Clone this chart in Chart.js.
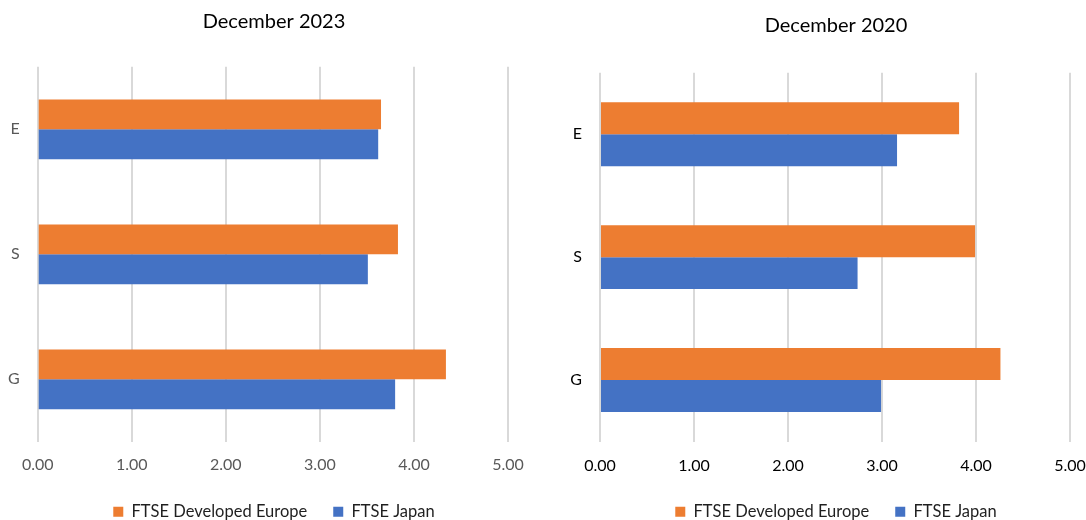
<!DOCTYPE html>
<html>
<head>
<meta charset="utf-8">
<script src="https://cdn.jsdelivr.net/npm/chart.js@4.4.1/dist/chart.umd.min.js"></script>
<style>
  html, body { margin: 0; padding: 0; overflow: hidden; background: #ffffff; width: 1086px; height: 520px; }
  #left { position: absolute; left: 0px; top: 0px; }
  #right { position: absolute; left: 556px; top: 0px; }
</style>
</head>
<body>
<canvas id="left" width="548" height="530"></canvas>
<canvas id="right" width="560" height="530"></canvas>
<script>
const categories = ['E', 'S', 'G'];
const seriesNames = ['FTSE Developed Europe', 'FTSE Japan'];
const europe2023 = [3.65, 3.83, 4.34];
const japan2023 = [3.62, 3.51, 3.80];
const europe2020 = [3.82, 3.99, 4.26];
const japan2020 = [3.16, 2.74, 2.99];
const xTicks = [0, 1, 2, 3, 4, 5];
const titles = ['December 2023', 'December 2020'];

const ORANGE = '#ED7D31';
const BLUE = '#4472C4';
const FONT = 'Lato, "Open Sans", sans-serif';

function makeChart(id, title, eu, jp, opt) {
  return new Chart(document.getElementById(id), {
    type: 'bar',
    data: {
      labels: categories,
      datasets: [
        { label: seriesNames[0], data: eu, backgroundColor: ORANGE, borderWidth: 0,
          categoryPercentage: opt.catPct, barPercentage: 1.0 },
        { label: seriesNames[1], data: jp, backgroundColor: BLUE, borderWidth: 0,
          categoryPercentage: opt.catPct, barPercentage: 1.0 }
      ]
    },
    options: {
      indexAxis: 'y',
      responsive: false,
      devicePixelRatio: 1,
      animation: false,
      layout: { padding: 0 },
      plugins: {
        title: {
          display: true, text: title, color: '#000000',
          font: { family: FONT, size: 20, weight: 'normal' },
          padding: { top: opt.titleTop, bottom: opt.titleBottom }
        },
        legend: {
          display: true, position: 'bottom',
          labels: {
            color: '#1f1f1f', boxWidth: 10, boxHeight: 10, padding: 26,
            font: { family: FONT, size: 16.5 }
          }
        },
        tooltip: { enabled: false }
      },
      scales: {
        x: {
          min: xTicks[0], max: xTicks[xTicks.length - 1],
          afterBuildTicks: (s) => { s.ticks = xTicks.map(v => ({ value: v })); },
          afterFit: (s) => { s.height = opt.xHeight; },
          grid: { color: '#d9d9d9', lineWidth: 2, drawTicks: false },
          border: { display: false },
          ticks: {
            color: opt.tickColor, padding: opt.tickPad,
            font: { family: FONT, size: 16 },
            callback: (v) => Number(v).toFixed(2)
          }
        },
        y: {
          afterFit: (s) => { s.width = opt.yWidth; },
          grid: { display: false, drawTicks: false },
          border: { display: false },
          ticks: {
            color: opt.tickColor, padding: 18,
            font: { family: FONT, size: 16 }
          }
        },
        spacer: {
          type: 'category', axis: 'y', position: 'right', labels: categories,
          afterFit: (s) => { s.width = opt.padRight; },
          grid: { display: false, drawTicks: false },
          border: { display: false },
          ticks: { display: false }
        }
      }
    }
  });
}

makeChart('left', titles[0], europe2023, japan2023, {
  catPct: 0.478, padRight: 40, titleTop: 9.5, titleBottom: 33.3,
  xHeight: 35.7, tickPad: 13.6, yWidth: 37.7, tickColor: '#595959'
});
makeChart('right', titles[1], europe2020, japan2020, {
  catPct: 0.52, padRight: 46, titleTop: 14, titleBottom: 34.8,
  xHeight: 36, tickPad: 14.6, yWidth: 44, tickColor: '#000000'
});
</script>
</body>
</html>
